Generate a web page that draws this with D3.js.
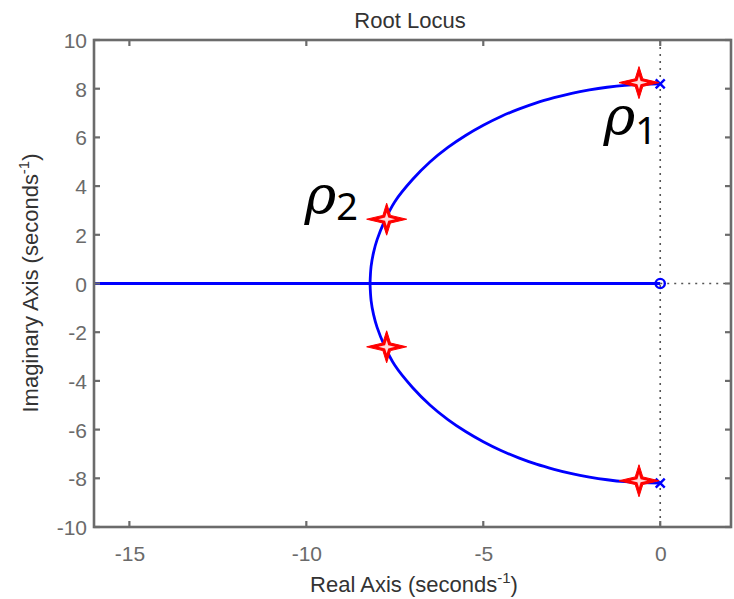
<!DOCTYPE html>
<html>
<head>
<meta charset="utf-8">
<script src="https://cdn.jsdelivr.net/npm/d3@7"></script>
<style>
  html, body { margin: 0; padding: 0; background: #fff; }
  svg { display: block; }
</style>
</head>
<body>
<svg id="chart" width="734" height="599"></svg>
<script>
// Axis limits and tick values
const xDomain = [-16, 2];
const yDomain = [-10, 10];
const xTicks = [-15, -10, -5, 0];
const yTicks = [-10, -8, -6, -4, -2, 0, 2, 4, 6, 8, 10];

// Locus branches (real, imaginary)
const upperBranch = [
  [0, 8.2], [-0.5, 8.18], [-1, 8.14], [-1.5, 8.06], [-2, 7.95], [-2.5, 7.81],
  [-3, 7.63], [-3.5, 7.42], [-4, 7.16], [-4.5, 6.86], [-5, 6.5], [-5.5, 6.08],
  [-6, 5.59], [-6.5, 5.0], [-7, 4.27], [-7.5, 3.36], [-7.8, 2.53], [-8.0, 1.8],
  [-8.1, 1.28], [-8.17, 0.7], [-8.2, 0]
];
const lowerBranch = [
  [0, -8.2], [-0.5, -8.18], [-1, -8.14], [-1.5, -8.06], [-2, -7.95], [-2.5, -7.81],
  [-3, -7.63], [-3.5, -7.42], [-4, -7.16], [-4.5, -6.86], [-5, -6.5], [-5.5, -6.08],
  [-6, -5.59], [-6.5, -5.0], [-7, -4.27], [-7.5, -3.36], [-7.8, -2.53], [-8.0, -1.8],
  [-8.1, -1.28], [-8.17, -0.7], [-8.2, 0]
];
const realAxisBranch = [[-17, 0], [0, 0]];

// Open-loop poles and zero
const poles = [[0, 8.2], [0, -8.2]];
const zeros = [[0, 0]];

// Highlighted closed-loop roots and their labels
const highlighted = [[-0.6, 8.25], [-0.6, -8.1], [-7.73, 2.64], [-7.73, -2.6]];
const rootLabels = [
  { name: "ρ", sub: "1", at: [-1.6, 6.1], subShift: 9 },
  { name: "ρ", sub: "2", at: [-10.05, 2.85], subShift: 6 }
];

const svg = d3.select("#chart");
const margin = { left: 94, right: 3, top: 40, bottom: 72 };
const W = 734, H = 599;
const x = d3.scaleLinear().domain(xDomain).range([margin.left, W - margin.right]);
const y = d3.scaleLinear().domain(yDomain).range([H - margin.bottom, margin.top]);

const axisColor = "#6b6b6b";
const textColor = "#6a6a6a";
const font = "'Liberation Sans', Arial, sans-serif";

svg.append("defs").append("clipPath").attr("id", "plotClip")
  .append("rect")
  .attr("x", x(xDomain[0])).attr("y", y(yDomain[1]))
  .attr("width", x(xDomain[1]) - x(xDomain[0]))
  .attr("height", y(yDomain[0]) - y(yDomain[1]));

const plot = svg.append("g").attr("clip-path", "url(#plotClip)");

// Dotted lines through the imaginary axis and the positive real axis
plot.append("line")
  .attr("x1", x(0)).attr("x2", x(0))
  .attr("y1", y(yDomain[1])).attr("y2", y(yDomain[0]))
  .attr("stroke", "#555").attr("stroke-width", 1.6)
  .attr("stroke-dasharray", "2,5");
plot.append("line")
  .attr("x1", x(0)).attr("x2", x(xDomain[1]))
  .attr("y1", y(0)).attr("y2", y(0))
  .attr("stroke", "#555").attr("stroke-width", 1.6)
  .attr("stroke-dasharray", "2,5");

const line = d3.line().x(d => x(d[0])).y(d => y(d[1])).curve(d3.curveCatmullRom);
const blue = "#0000ff";
[upperBranch, lowerBranch].forEach(b => {
  plot.append("path").attr("d", line(b))
    .attr("fill", "none").attr("stroke", blue).attr("stroke-width", 2.8);
});
plot.append("path").attr("d", d3.line().x(d => x(d[0])).y(d => y(d[1]))(realAxisBranch))
  .attr("fill", "none").attr("stroke", blue).attr("stroke-width", 2.8);

// Pole markers (x)
const ps = 4.5;
poles.forEach(p => {
  plot.append("path")
    .attr("d", `M${x(p[0]) - ps},${y(p[1]) - ps}L${x(p[0]) + ps},${y(p[1]) + ps}M${x(p[0]) - ps},${y(p[1]) + ps}L${x(p[0]) + ps},${y(p[1]) - ps}`)
    .attr("stroke", blue).attr("stroke-width", 2.4).attr("fill", "none");
});
// Zero markers (o)
zeros.forEach(z => {
  plot.append("circle").attr("cx", x(z[0])).attr("cy", y(z[1])).attr("r", 4.6)
    .attr("fill", "none").attr("stroke", blue).attr("stroke-width", 2.4);
});

// Frame with inward ticks on all four sides
const frame = svg.append("g");
frame.append("rect")
  .attr("x", x(xDomain[0])).attr("y", y(yDomain[1]))
  .attr("width", x(xDomain[1]) - x(xDomain[0]))
  .attr("height", y(yDomain[0]) - y(yDomain[1]))
  .attr("fill", "none").attr("stroke", axisColor).attr("stroke-width", 2.6);

const tl = 6;
xTicks.forEach(t => {
  frame.append("line").attr("x1", x(t)).attr("x2", x(t))
    .attr("y1", y(yDomain[0])).attr("y2", y(yDomain[0]) - tl)
    .attr("stroke", axisColor).attr("stroke-width", 2.2);
  frame.append("line").attr("x1", x(t)).attr("x2", x(t))
    .attr("y1", y(yDomain[1])).attr("y2", y(yDomain[1]) + tl)
    .attr("stroke", axisColor).attr("stroke-width", 2.2);
});
yTicks.forEach(t => {
  frame.append("line").attr("x1", x(xDomain[0])).attr("x2", x(xDomain[0]) + tl)
    .attr("y1", y(t)).attr("y2", y(t))
    .attr("stroke", axisColor).attr("stroke-width", 2.2);
  frame.append("line").attr("x1", x(xDomain[1])).attr("x2", x(xDomain[1]) - tl)
    .attr("y1", y(t)).attr("y2", y(t))
    .attr("stroke", axisColor).attr("stroke-width", 2.2);
});

// Tick labels via d3 axis generators, with their own lines hidden
const fmt = d => String(d);
const xAxis = svg.append("g")
  .attr("transform", `translate(0,${y(yDomain[0])})`)
  .call(d3.axisBottom(x).tickValues(xTicks).tickSize(0).tickPadding(0).tickFormat(fmt));
xAxis.select(".domain").remove();
xAxis.selectAll("text")
  .attr("y", 34).attr("dy", 0)
  .attr("fill", textColor).style("font-family", font).style("font-size", "21px");

const yAxis = svg.append("g")
  .attr("transform", `translate(${x(xDomain[0])},0)`)
  .call(d3.axisLeft(y).tickValues(yTicks).tickSize(0).tickPadding(0).tickFormat(fmt));
yAxis.select(".domain").remove();
yAxis.selectAll("text")
  .attr("x", -7).attr("dy", "0.36em")
  .attr("fill", textColor).style("font-family", font).style("font-size", "21px");

// Title and axis labels
svg.append("text").attr("x", 410).attr("y", 28).attr("text-anchor", "middle")
  .attr("fill", "#333").style("font-family", font).style("font-size", "22px")
  .text("Root Locus");

const xl = svg.append("text").attr("x", 414).attr("y", 592).attr("text-anchor", "middle")
  .attr("fill", "#333").style("font-family", font).style("font-size", "22px");
xl.append("tspan").text("Real Axis (seconds");
xl.append("tspan").attr("dy", -9).style("font-size", "15px").text("-1");
xl.append("tspan").attr("dy", 9).text(")");

const yl = svg.append("text").attr("transform", "translate(38,283) rotate(-90)")
  .attr("text-anchor", "middle")
  .attr("fill", "#333").style("font-family", font).style("font-size", "22px");
yl.append("tspan").text("Imaginary Axis (seconds");
yl.append("tspan").attr("dy", -9).style("font-size", "15px").text("-1");
yl.append("tspan").attr("dy", 9).text(")");

// Highlighted roots: red four-pointed stars with a small light core
const star = (cx, cy, k) => {
  const a = 20 * k, b = 16 * k, c = 3.8 * k;
  return `M${cx + a},${cy}L${cx + c},${cy + c}L${cx},${cy + b}L${cx - c},${cy + c}` +
         `L${cx - a},${cy}L${cx - c},${cy - c}L${cx},${cy - b}L${cx + c},${cy - c}Z`;
};
const roots = svg.selectAll(".root").data(highlighted).enter().append("g").attr("class", "root");
roots.append("path")
  .attr("d", d => star(x(d[0]), y(d[1]), 1))
  .attr("fill", "#ff0000").attr("stroke", "#ff0000").attr("stroke-width", 1)
  .attr("stroke-linejoin", "miter");
roots.append("path")
  .attr("d", d => star(x(d[0]), y(d[1]), 0.42))
  .attr("fill", "#ffffff").attr("fill-opacity", 0.85);

// Root labels
rootLabels.forEach(l => {
  const t = svg.append("text").attr("x", x(l.at[0])).attr("y", y(l.at[1]))
    .attr("fill", "#000").style("font-family", "'DejaVu Serif', 'Noto Sans', serif")
    .style("font-style", "italic").style("font-size", "54px");
  t.append("tspan").text(l.name);
  t.append("tspan").attr("dy", l.subShift).style("font-style", "normal")
    .style("font-family", "'Noto Sans', sans-serif").style("font-size", "38px").text(l.sub);
});
</script>
</body>
</html>
